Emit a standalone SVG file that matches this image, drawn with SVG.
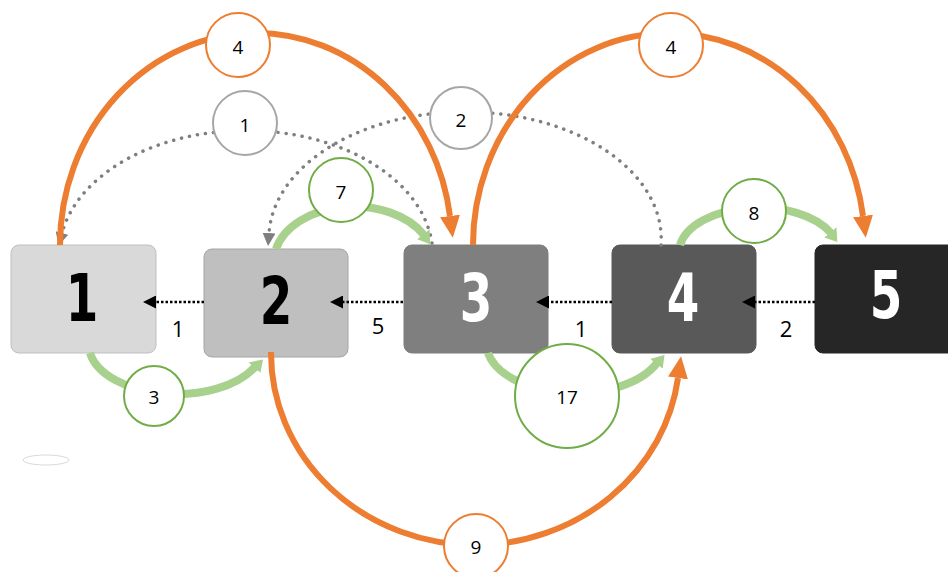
<svg xmlns="http://www.w3.org/2000/svg" width="948" height="572" viewBox="0 0 948 572">
<style>
.box{stroke-width:1}
.big{font-family:"DejaVu Sans Condensed","DejaVu Sans",sans-serif;font-weight:bold;font-size:65px;text-anchor:middle}
.lab{font-family:"Open Sans","Liberation Sans",sans-serif;font-size:22px;text-anchor:middle;fill:#000}
.cl{font-family:"Open Sans","Liberation Sans",sans-serif;font-size:19px;text-anchor:middle;fill:#000}
.org{fill:none;stroke:#ed7d31;stroke-width:6}
.grn{fill:none;stroke:#a9d18e;stroke-width:8}
.dot{fill:none;stroke:#7f7f7f;stroke-width:3.5;stroke-linecap:round;stroke-dasharray:0.1 8}
.blk{fill:none;stroke:#000;stroke-width:2.5;stroke-dasharray:2.5 2}
.co{fill:#fff;stroke:#ed7d31;stroke-width:2}
.cg{fill:#fff;stroke:#70ad47;stroke-width:2}
.cy{fill:#fff;stroke:#a6a6a6;stroke-width:2}
</style>
<defs>
<marker id="ao" markerUnits="userSpaceOnUse" viewBox="0 0 22 20" refX="0" refY="10" markerWidth="22" markerHeight="20" orient="auto"><path d="M0,0 L22,10 L0,20 z" fill="#ed7d31"/></marker>
<marker id="ag" markerUnits="userSpaceOnUse" viewBox="0 0 12 16" refX="1" refY="8" markerWidth="12" markerHeight="16" orient="auto"><path d="M0,0 L12,9 L0,16 z" fill="#a9d18e"/></marker>
<marker id="ay" markerUnits="userSpaceOnUse" viewBox="0 0 13 13" refX="0" refY="6.5" markerWidth="13" markerHeight="13" orient="auto"><path d="M0,0 L13,6.5 L0,13 z" fill="#7f7f7f"/></marker>
<marker id="ab" markerUnits="userSpaceOnUse" viewBox="0 0 13 13" refX="0" refY="6.5" markerWidth="13" markerHeight="13" orient="auto"><path d="M0,0 L13,6.5 L0,13 z" fill="#000"/></marker>
</defs>
<rect width="948" height="572" fill="#fff"/>
<ellipse cx="46" cy="460" rx="23" ry="5" fill="#fff" stroke="#d9d9d9" stroke-width="1"/>
<g id="node1"><rect class="box" x="11" y="245" width="145" height="108" rx="8" fill="#d9d9d9" stroke="#bfbfbf"/><text class="big" transform="translate(82 321) scale(0.8 1)" fill="#000">1</text></g>
<g id="node2"><rect class="box" x="204" y="249" width="144" height="108" rx="8" fill="#bfbfbf" stroke="#a6a6a6"/><text class="big" transform="translate(276 324) scale(0.8 1)" fill="#000">2</text></g>
<g id="node3"><rect class="box" x="404" y="245" width="144" height="108" rx="8" fill="#7f7f7f" stroke="#7f7f7f"/><text class="big" transform="translate(476 321) scale(0.8 1)" fill="#fff">3</text></g>
<g id="node4"><rect class="box" x="612" y="245" width="144" height="108" rx="8" fill="#595959" stroke="#595959"/><text class="big" transform="translate(683 321) scale(0.8 1)" fill="#fff">4</text></g>
<g id="node5"><rect class="box" x="815" y="245" width="144" height="108" rx="8" fill="#262626" stroke="#262626"/><text class="big" transform="translate(886 318) scale(0.8 1)" fill="#fff">5</text></g>
<g id="connectors">
<path class="dot" d="M432 243 A187 125 0 0 0 62 233" marker-end="url(#ay)"/>
<path class="dot" d="M661 245 A196 127 0 0 0 269 233" marker-end="url(#ay)"/>
<path class="org" d="M60 245 A196 212 0 0 1 256 33 A196 212 0 0 1 450 216" marker-end="url(#ao)"/>
<path class="org" d="M473 245 A196 212 0 0 1 669 33 A196 212 0 0 1 863 216" marker-end="url(#ao)"/>
<path class="org" d="M271 352 A205 192 0 0 0 476 545 A205 192 0 0 0 678 378" marker-end="url(#ao)"/>
<path class="grn" d="M90 353 A88 50 0 0 0 255 367" marker-end="url(#ag)"/>
<path class="grn" d="M276 249 A80 55 0 0 1 424 235" marker-end="url(#ag)"/>
<path class="grn" d="M488 353 A89 50 0 0 0 657 363" marker-end="url(#ag)"/>
<path class="grn" d="M680 245 A80 45 0 0 1 831 233" marker-end="url(#ag)"/>
<path class="blk" d="M204 302 L156 302" marker-end="url(#ab)"/>
<path class="blk" d="M403 302 L343 302" marker-end="url(#ab)"/>
<path class="blk" d="M612 302 L549 302" marker-end="url(#ab)"/>
<path class="blk" d="M815 302 L755 302" marker-end="url(#ab)"/>
<text class="lab" x="178" y="337">1</text>
<text class="lab" x="378" y="334">5</text>
<text class="lab" x="581" y="337">1</text>
<text class="lab" x="786" y="337">2</text>
</g>
<g id="labels">
<circle class="co" cx="238" cy="45" r="32"/><text class="cl" x="238" y="54">4</text>
<circle class="co" cx="671" cy="45" r="32"/><text class="cl" x="671" y="54">4</text>
<circle class="co" cx="476" cy="546" r="32"/><text class="cl" x="476" y="554">9</text>
<circle class="cy" cx="245" cy="123" r="32"/><text class="cl" x="245" y="132">1</text>
<circle class="cy" cx="461" cy="118" r="31"/><text class="cl" x="461" y="127">2</text>
<circle class="cg" cx="341" cy="190" r="32"/><text class="cl" x="341" y="199">7</text>
<circle class="cg" cx="754" cy="211" r="32"/><text class="cl" x="754" y="220">8</text>
<circle class="cg" cx="154" cy="396" r="30"/><text class="cl" x="154" y="404">3</text>
<circle class="cg" cx="567" cy="396" r="52"/><text class="cl" x="567" y="404">17</text>
</g>
</svg>
